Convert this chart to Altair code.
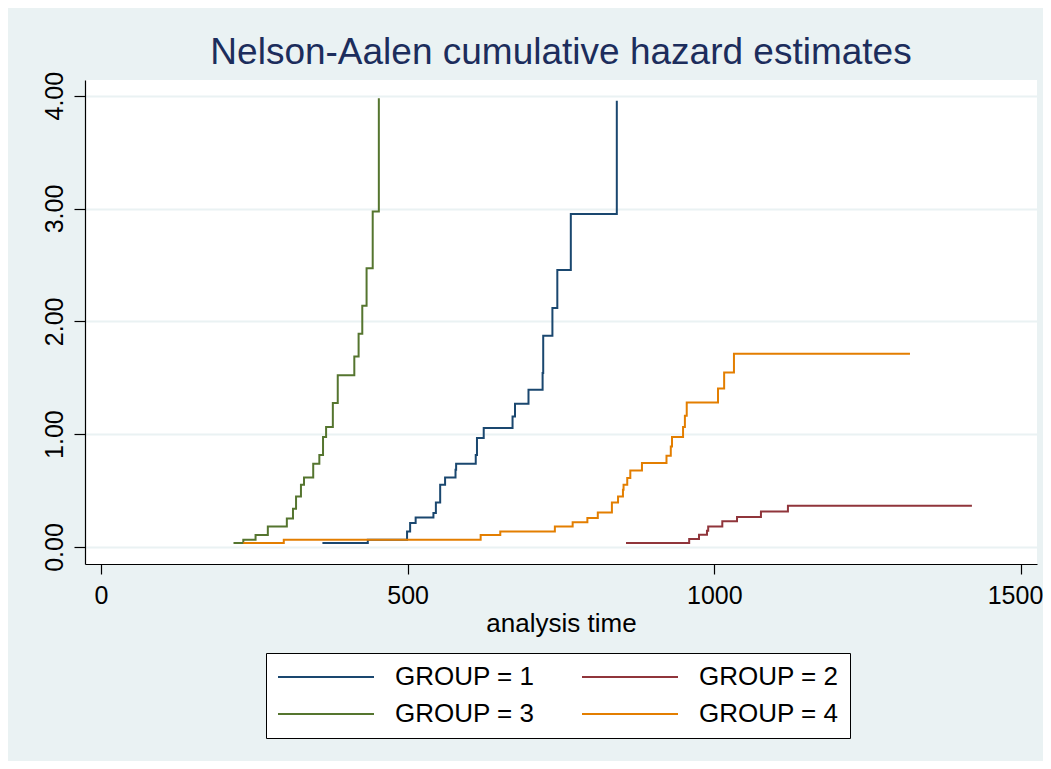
import altair as alt
import pandas as pd

# ---- data ----
groups = ["GROUP = 1", "GROUP = 2", "GROUP = 3", "GROUP = 4"]
colors = ["#1a476f", "#90353b", "#55752f", "#e37e00"]
legend_order = ["GROUP = 1", "GROUP = 3", "GROUP = 2", "GROUP = 4"]

g1_time = [361, 435, 499, 504, 513, 542, 546, 553, 561, 578, 579, 611, 613, 624,
           671, 675, 697, 720, 721, 736, 744, 766, 841]
g1_haz = [0.035, 0.065, 0.136, 0.213, 0.262, 0.301, 0.395, 0.552, 0.616, 0.685,
          0.738, 0.815, 0.965, 1.054, 1.157, 1.269, 1.393, 1.541, 1.872, 2.117,
          2.456, 2.952, 3.956]

g2_time = [856, 959, 975, 988, 990, 1013, 1037, 1076, 1120, 1420]
g2_haz = [0.035, 0.071, 0.109, 0.144, 0.182, 0.227, 0.266, 0.315, 0.366, 0.366]

g3_time = [216, 232, 252, 272, 303, 313, 318, 326, 331, 346, 356, 362, 367, 378,
           386, 413, 420, 426, 433, 443, 453]
g3_haz = [0.035, 0.065, 0.106, 0.182, 0.253, 0.339, 0.448, 0.552, 0.616, 0.738,
          0.815, 0.974, 1.063, 1.275, 1.523, 1.688, 1.889, 2.137, 2.471, 2.973,
          3.977]

g4_time = [232, 298, 619, 651, 740, 769, 793, 810, 833, 843, 851, 852, 858, 863,
           882, 922, 929, 931, 949, 952, 955, 1006, 1016, 1032, 1319]
g4_haz = [0.035, 0.065, 0.106, 0.138, 0.182, 0.218, 0.257, 0.306, 0.395, 0.448,
          0.508, 0.552, 0.611, 0.678, 0.744, 0.809, 0.891, 0.974, 1.063, 1.163,
          1.281, 1.405, 1.546, 1.712, 1.712]

x_ticks = [0, 500, 1000, 1500]
y_ticks = [0, 1, 2, 3, 4]

rows = []
for name, ts, vs in zip(groups, [g1_time, g2_time, g3_time, g4_time],
                        [g1_haz, g2_haz, g3_haz, g4_haz]):
    for t, v in zip(ts, vs):
        rows.append({"group": name, "time": t, "hazard": v})
df = pd.DataFrame(rows)

FONT = "Liberation Sans"
BG = "#EAF2F3"

chart = alt.Chart(df).mark_line(interpolate="step-after", strokeWidth=2).encode(
    x=alt.X(
        "time:Q",
        scale=alt.Scale(domain=[-26.1, 1526.1], nice=False, zero=False),
        axis=alt.Axis(
            values=x_ticks, format="d", title="analysis time", grid=False,
            tickSize=10, labelPadding=9, labelFontSize=25, labelBaseline="top",
            labelOffset={"condition": {"test": "datum.value == 1500", "value": -6},
                         "value": 0},
            titleFontSize=26, titlePadding=2,
        ),
    ),
    y=alt.Y(
        "hazard:Q",
        scale=alt.Scale(domain=[-0.151, 4.139], nice=False, zero=False),
        axis=alt.Axis(
            values=y_ticks, format=".2f", title=None, grid=True,
            gridColor=BG, gridWidth=2, tickSize=11, labelPadding=12,
            labelFontSize=25, labelAngle=270, labelAlign="center",
            labelBaseline="alphabetic",
        ),
    ),
    color=alt.Color(
        "group:N",
        scale=alt.Scale(domain=groups, range=colors),
        legend=alt.Legend(
            title=None, orient="none", legendX=181, legendY=573, columns=2,
            values=legend_order,
            symbolType="stroke", symbolSize=9216, symbolStrokeWidth=2,
            labelFontSize=26, labelFont=FONT, labelColor="black",
            labelOffset=20, columnPadding=46, rowPadding=11, padding=11,
            fillColor="white", strokeColor="black", clipHeight=26,
            labelLimit=400,
        ),
    ),
).properties(
    width=952,
    height=484,
    title=alt.TitleParams(
        text="Nelson-Aalen cumulative hazard estimates",
        font=FONT, fontSize=37, fontWeight="normal", color="#1c2d5c",
        anchor="middle", frame="group", baseline="alphabetic", offset=6, dy=36,
    ),
    autosize=alt.AutoSizeParams(type="none"),
    padding={"left": 77, "top": 72, "right": 6, "bottom": 197},
    background=BG,
).configure_view(
    fill="white", strokeWidth=0,
).configure_axis(
    labelFont=FONT, titleFont=FONT, labelColor="black", titleColor="black",
    titleFontWeight="normal", domainColor="black", domainWidth=1.2,
    tickColor="black", tickWidth=1.2,
)

chart.save("out.html", embed_options={"renderer": "svg", "actions": False})
